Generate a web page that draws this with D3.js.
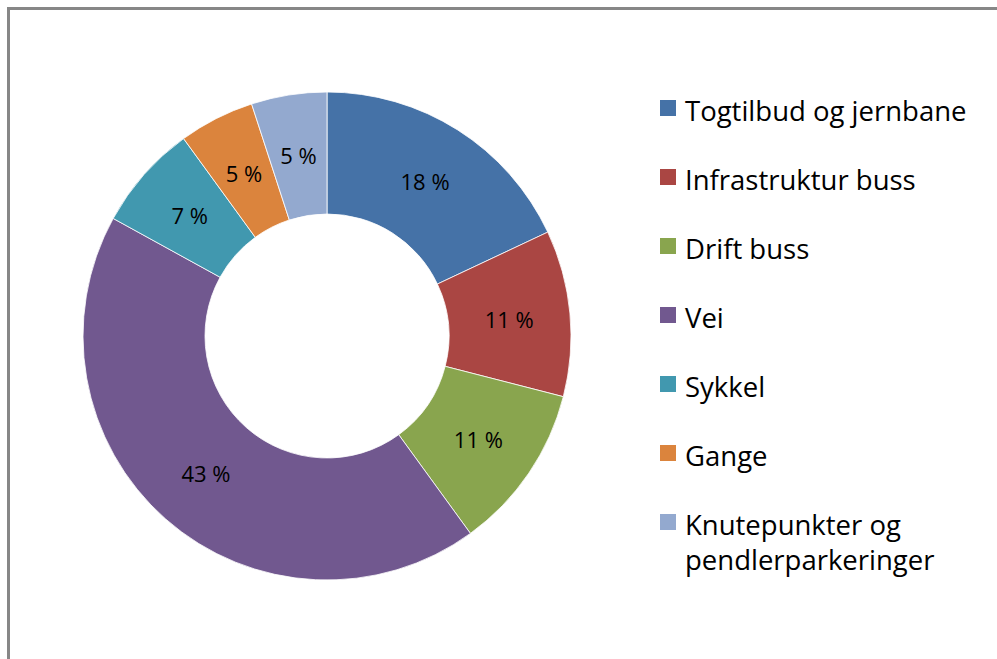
<!DOCTYPE html>
<html>
<head>
<meta charset="utf-8">
<script src="https://cdn.jsdelivr.net/npm/d3@7"></script>
<style>
  body { margin: 0; background: #fff; }
  svg { display: block; font-family: "Open Sans", "DejaVu Sans", sans-serif; }
</style>
</head>
<body>
<div id="chart"></div>
<script>
// data
var categories = ["Togtilbud og jernbane", "Infrastruktur buss", "Drift buss", "Vei", "Sykkel", "Gange", "Knutepunkter og pendlerparkeringer"];
var values = [18, 11, 11, 43, 7, 5, 5];
var colors = ["#4572A7", "#AA4643", "#89A54E", "#71588F", "#4198AF", "#DB843D", "#93A9CF"];

var width = 997, height = 659;
var cx = 327, cy = 336, outerR = 244, innerR = 122;

var svg = d3.select("#chart")
  .append("svg")
  .attr("width", width)
  .attr("height", height);

// chart frame (only top and left edges visible in the crop)
svg.append("rect")
  .attr("x", 8.5)
  .attr("y", 8.5)
  .attr("width", width + 20)
  .attr("height", height + 20)
  .attr("fill", "none")
  .attr("stroke", "#878787")
  .attr("stroke-width", 3);

var data = categories.map(function (c, i) { return { name: c, value: values[i], color: colors[i] }; });

var pie = d3.pie()
  .value(function (d) { return d.value; })
  .sort(null);

var arc = d3.arc()
  .innerRadius(innerR)
  .outerRadius(outerR);

var labelArc = d3.arc()
  .innerRadius((innerR + outerR) / 2)
  .outerRadius((innerR + outerR) / 2);

var g = svg.append("g")
  .attr("transform", "translate(" + cx + "," + cy + ")");

var arcs = pie(data);

g.selectAll("path")
  .data(arcs)
  .enter()
  .append("path")
  .attr("d", arc)
  .attr("fill", function (d) { return d.data.color; })
  .attr("stroke", "#ffffff")
  .attr("stroke-width", 0.8);

var total = d3.sum(values);
g.selectAll("text.lbl")
  .data(arcs)
  .enter()
  .append("text")
  .attr("class", "lbl")
  .attr("transform", function (d) { return "translate(" + labelArc.centroid(d) + ")"; })
  .attr("text-anchor", "middle")
  .attr("dy", "0.4em")
  .attr("font-size", 22)
  .attr("fill", "#000")
  .text(function (d) { return Math.round(d.data.value / total * 100) + " %"; });

// legend
var legendX = 660, legendY = 100, rowH = 69;
var legend = svg.append("g");

var rows = legend.selectAll("g")
  .data(data)
  .enter()
  .append("g")
  .attr("transform", function (d, i) { return "translate(" + legendX + "," + (legendY + i * rowH) + ")"; });

rows.append("rect")
  .attr("width", 16)
  .attr("height", 16)
  .attr("fill", function (d) { return d.color; });

rows.append("text")
  .attr("font-size", 27.5)
  .attr("fill", "#000")
  .each(function (d) {
    var t = d3.select(this);
    var parts = d.name === "Knutepunkter og pendlerparkeringer" ? ["Knutepunkter og", "pendlerparkeringer"] : [d.name];
    parts.forEach(function (p, j) {
      t.append("tspan").attr("x", 25).attr("y", 21 + j * 35).text(p);
    });
  });
</script>
</body>
</html>
